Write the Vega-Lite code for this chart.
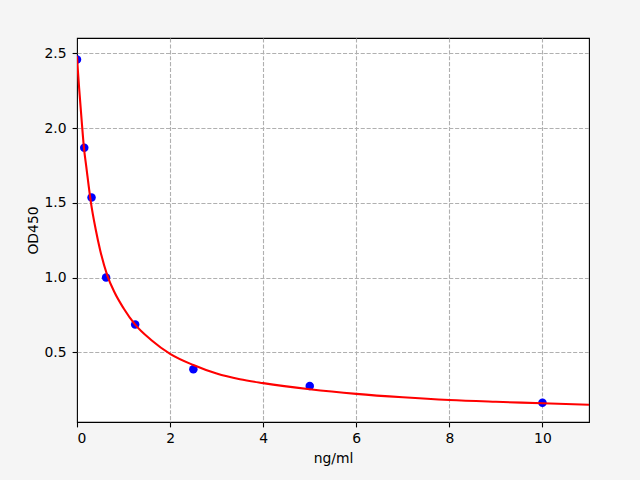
{
  "$schema": "https://vega.github.io/schema/vega-lite/v6.json",
  "width": 512,
  "height": 384,
  "autosize": {"type": "none"},
  "padding": {"left": 77, "top": 38, "right": 51, "bottom": 58},
  "background": "#f5f5f5",
  "config": {
    "view": {"stroke": "#000000", "strokeWidth": 1.1, "fill": "#ffffff"},
    "axis": {
      "domain": false,
      "grid": true,
      "gridColor": "#b0b0b0",
      "gridDash": [4.1, 1.8],
      "gridWidth": 1.1,
      "tickColor": "#000000",
      "tickSize": 4.9,
      "tickWidth": 1.1,
      "labelFont": "DejaVu Sans",
      "labelFontSize": 13.9,
      "labelColor": "#000000",
      "labelPadding": 5,
      "titleFont": "DejaVu Sans",
      "titleFontSize": 13.9,
      "titleFontWeight": "normal",
      "titleColor": "#000000"
    }
  },
  "encoding": {
    "x": {
      "field": "x",
      "type": "quantitative",
      "scale": {"domain": [0, 11], "nice": false, "zero": false},
      "axis": {
        "values": [0, 2, 4, 6, 8, 10],
        "title": "ng/ml",
        "titleY": 40,
        "titleBaseline": "alphabetic",
        "gridOpacity": {"condition": {"test": "datum.value === 0", "value": 0}, "value": 1}
      }
    },
    "y": {
      "field": "y",
      "type": "quantitative",
      "scale": {"domain": [0.034, 2.602], "nice": false, "zero": false},
      "axis": {"values": [0.5, 1.0, 1.5, 2.0, 2.5], "format": ".1f", "title": "OD450", "labelPadding": 6, "titleX": -44, "titleY": 192, "titleAngle": 270, "titleAlign": "center", "titleBaseline": "middle"}
    }
  },
  "layer": [
    {
      "data": {"values": [
        {"x": 0, "y": 2.458},
        {"x": 0.156, "y": 1.868},
        {"x": 0.3125, "y": 1.535},
        {"x": 0.625, "y": 1.0},
        {"x": 1.25, "y": 0.686},
        {"x": 2.5, "y": 0.387},
        {"x": 5, "y": 0.275},
        {"x": 10, "y": 0.163}
      ]},
      "mark": {"type": "point", "filled": true, "color": "#0000ff", "opacity": 1, "size": 72, "clip": true}
    },
    {
      "data": {"values": [
        {"x": 0, "y": 2.48},
        {"x": 0.02, "y": 2.38},
        {"x": 0.05, "y": 2.25},
        {"x": 0.1, "y": 2.05},
        {"x": 0.15, "y": 1.865},
        {"x": 0.2, "y": 1.74},
        {"x": 0.3, "y": 1.5},
        {"x": 0.4, "y": 1.325},
        {"x": 0.5, "y": 1.18},
        {"x": 0.65, "y": 1.015},
        {"x": 0.8, "y": 0.905},
        {"x": 1.0, "y": 0.795},
        {"x": 1.25, "y": 0.685},
        {"x": 1.6, "y": 0.581},
        {"x": 2.0, "y": 0.49},
        {"x": 2.5, "y": 0.415},
        {"x": 3.0, "y": 0.358},
        {"x": 3.5, "y": 0.32},
        {"x": 4.0, "y": 0.294},
        {"x": 5.0, "y": 0.253},
        {"x": 6.0, "y": 0.222},
        {"x": 7.0, "y": 0.199},
        {"x": 8.0, "y": 0.181},
        {"x": 9.0, "y": 0.169},
        {"x": 10.0, "y": 0.159},
        {"x": 11.0, "y": 0.149}
      ]},
      "mark": {"type": "line", "color": "#ff0000", "strokeWidth": 2.1, "interpolate": "monotone", "clip": true}
    }
  ]
}
